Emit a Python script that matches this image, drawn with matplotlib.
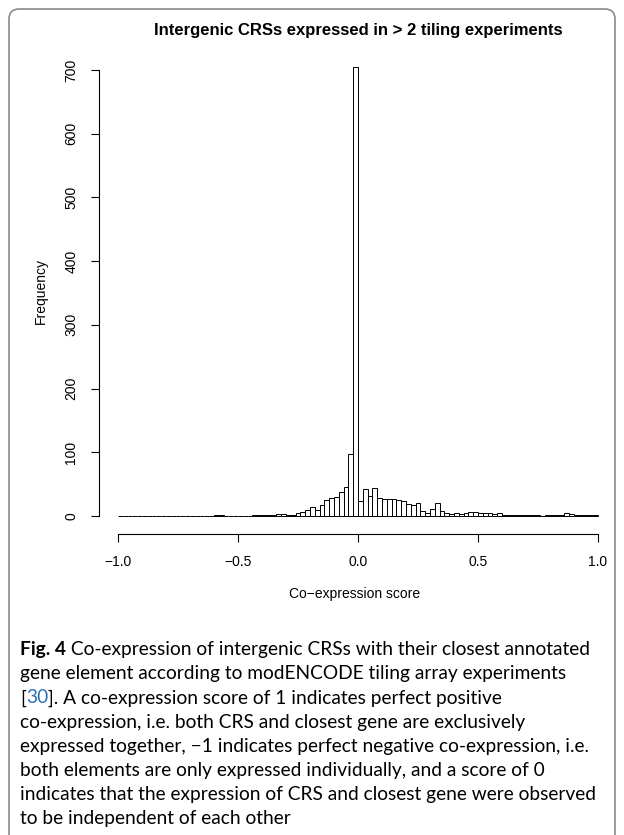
import numpy as np
import matplotlib
matplotlib.use("Agg")
from matplotlib import pyplot as plt
from matplotlib.patches import FancyBboxPatch

# histogram of co-expression scores, 100 bins of width 0.02 from -1 to 1
bin_left = np.round(np.arange(-1.0, 1.0, 0.02), 2)
counts = [0, 0, 0, 0, 0, 0, 0, 0, 0, 0,
          0, 0, 0, 0, 0, 0, 0, 0, 0, 0,
          1, 1, 0, 0, 0, 0, 0, 0, 1, 1,
          1, 1, 2, 3, 3, 2, 2, 4, 6, 10,
          14, 9, 17, 25, 29, 30, 38, 45, 98, 705,
          23, 43, 31, 44, 29, 26, 26, 27, 25, 24,
          19, 17, 20, 8, 5, 11, 21, 8, 4, 3,
          4, 3, 4, 6, 7, 5, 4, 4, 3, 4,
          2, 2, 1, 2, 1, 1, 1, 1, 0, 1,
          2, 1, 2, 5, 3, 1, 1, 2, 2, 1]
x_ticks = [-1.0, -0.5, 0.0, 0.5, 1.0]
y_ticks = [0, 100, 200, 300, 400, 500, 600, 700]

title = "Intergenic CRSs expressed in > 2 tiling experiments"
x_label = "Co\u2212expression score"
y_label = "Frequency"

caption = [
    [("Fig. 4", "bold", "black"), (" Co-expression of intergenic CRSs with their closest annotated", "normal", "black")],
    [("gene element according to modENCODE tiling array experiments", "normal", "black")],
    [("[", "normal", "black"), ("30", "normal", "#2a6db5"), ("]. A co-expression score of 1 indicates perfect positive", "normal", "black")],
    [("co-expression, i.e. both CRS and closest gene are exclusively", "normal", "black")],
    [("expressed together, \u22121 indicates perfect negative co-expression, i.e.", "normal", "black")],
    [("both elements are only expressed individually, and a score of 0", "normal", "black")],
    [("indicates that the expression of CRS and closest gene were observed", "normal", "black")],
    [("to be independent of each other", "normal", "black")],
]

W, H = 624, 835
fig = plt.figure(figsize=(W / 100, H / 100), dpi=100)
plt.rcParams['font.family'] = ['Liberation Sans', 'DejaVu Sans']

# overlay in pixel coordinates for frame and caption
bg = fig.add_axes([0, 0, 1, 1])
bg.set_xlim(0, W)
bg.set_ylim(H, 0)
bg.axis("off")
bg.add_patch(FancyBboxPatch((9, 9), 606, 860, boxstyle="round,pad=0,rounding_size=10",
                            facecolor="none", edgecolor="#8a8a8a", linewidth=1.2))

# main plot: -1 -> 118 px, 1 -> 598 px ; 0 -> 516 px, 700 -> 70 px
left_px, right_px, top_px, bot_px = 99, 610, 49, 534
ax = fig.add_axes([left_px / W, 1 - bot_px / H, (right_px - left_px) / W, (bot_px - top_px) / H])
ax.bar(bin_left, counts, width=0.02, align="edge", facecolor="white",
       edgecolor="black", linewidth=0.7)
ax.set_xlim((left_px - 358) / 240, (right_px - 358) / 240)
ax.set_ylim((516 - bot_px) / 0.6371, (516 - top_px) / 0.6371)

for s in ["top", "right"]:
    ax.spines[s].set_visible(False)
ax.spines["left"].set_bounds(0, 700)
ax.spines["bottom"].set_bounds(-1, 1)
for s in ["left", "bottom"]:
    ax.spines[s].set_linewidth(0.8)

ax.set_xticks(x_ticks)
ax.set_xticklabels(["%.1f" % v if v >= 0 else "\u2212%.1f" % -v for v in x_ticks])
ax.set_yticks(y_ticks)
ax.set_yticklabels([str(v) for v in y_ticks], rotation=90, va="center")
ax.tick_params(axis="both", length=6, width=0.8, labelsize=10)
ax.tick_params(axis="x", pad=9)
ax.tick_params(axis="y", pad=9)

ax.set_xlabel(x_label, fontsize=10, labelpad=13)
ax.set_ylabel(y_label, fontsize=10, labelpad=12)
bg.text(358, 30, title, fontsize=12, fontweight="bold", ha="center", va="center")

# caption
cap_font = ["Lato", "DejaVu Sans"]
cap_size = 13.8
renderer = fig.canvas.get_renderer()
y = 655
for line in caption:
    x = 20
    for text, weight, color in line:
        t = bg.text(x, y, text, fontsize=cap_size, fontweight=weight, color=color,
                    family=cap_font, ha="left", va="baseline")
        x += t.get_window_extent(renderer).width
    y += 24.2

fig.savefig("out.png", dpi=100)
